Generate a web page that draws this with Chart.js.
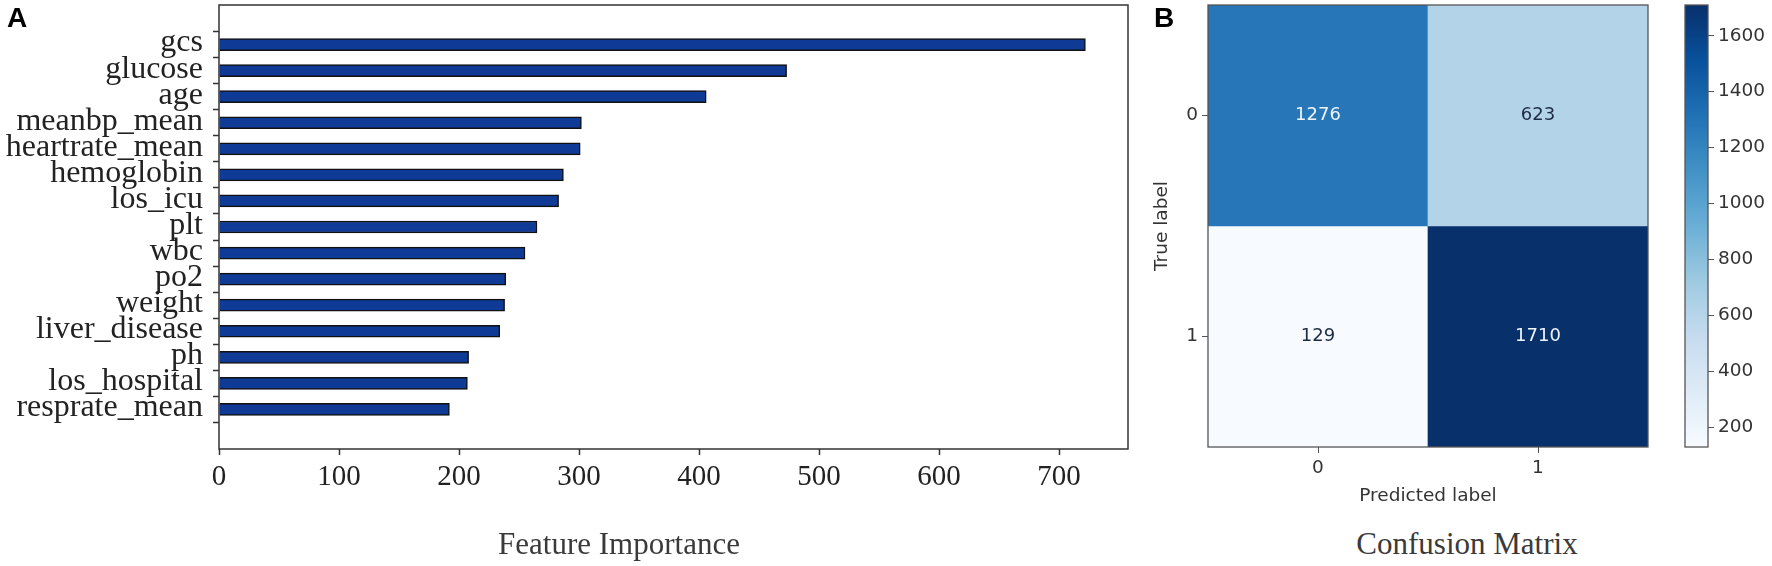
<!DOCTYPE html>
<html>
<head>
<meta charset="utf-8">
<script src="https://cdn.jsdelivr.net/npm/chart.js@4.4.0/dist/chart.umd.min.js"></script>
<style>
  html, body { margin: 0; padding: 0; background: #fff; }
  #fig { position: relative; width: 1772px; height: 566px; overflow: hidden; background: #fff; }
  .wrap { position: absolute; }
  .panel { position: absolute; font: bold 28px 'Liberation Sans', Arial, sans-serif; color: #000; line-height: 1; }
  .caption { position: absolute; font: 31px 'Liberation Serif', serif; color: #3a3a3a; transform: translate(-50%, -50%); white-space: nowrap; line-height: 1; }
</style>
</head>
<body>
<div id="fig">
  <div class="wrap" style="left:0;top:0;width:1140px;height:566px"><canvas id="impChart"></canvas></div>
  <div class="wrap" style="left:1140px;top:0;width:540px;height:520px"><canvas id="cmChart"></canvas></div>
  <div class="wrap" style="left:1680px;top:0;width:92px;height:500px"><canvas id="cbChart"></canvas></div>
  <div class="panel" style="left:7px;top:4px">A</div>
  <div class="panel" style="left:1154px;top:4px">B</div>
  <div class="caption" style="left:619px;top:543px">Feature Importance</div>
  <div class="caption" style="left:1467px;top:543px">Confusion Matrix</div>
</div>
<script>
// panel A - importancia de variables
const features = ['gcs', 'glucose', 'age', 'meanbp_mean', 'heartrate_mean', 'hemoglobin', 'los_icu',
    'plt', 'wbc', 'po2', 'weight', 'liver_disease', 'ph', 'los_hospital', 'resprate_mean'];
const importance = [722, 473, 406, 302, 301, 287, 283, 265, 255, 239, 238, 234, 208, 207, 192];
const importanceTicks = [0, 100, 200, 300, 400, 500, 600, 700];

// panel B - matriz de confusion
const predLabels = ['0', '1'];
const trueLabels = ['0', '1'];
const cmRow0 = [1276, 623];
const cmRow1 = [129, 1710];
const colorbarTicks = [200, 400, 600, 800, 1000, 1200, 1400, 1600];

const cmRows = [cmRow0, cmRow1];
const cmMin = Math.min(...cmRow0, ...cmRow1);
const cmMax = Math.max(...cmRow0, ...cmRow1);

// colormap Blues (matplotlib)
const bluesStops = ['#f7fbff', '#deebf7', '#c6dbef', '#9ecae1', '#6baed6', '#4292c6', '#2171b5', '#08519c', '#08306b'];

function hexToRgb(h) {
    return [parseInt(h.slice(1, 3), 16), parseInt(h.slice(3, 5), 16), parseInt(h.slice(5, 7), 16)];
}

function blues(v) {
    const t = Math.max(0, Math.min(1, (v - cmMin) / (cmMax - cmMin)));
    const pos = t * (bluesStops.length - 1);
    const i = Math.min(Math.floor(pos), bluesStops.length - 2);
    const f = pos - i;
    const a = hexToRgb(bluesStops[i]);
    const b = hexToRgb(bluesStops[i + 1]);
    const c = a.map((x, k) => Math.round(x + (b[k] - x) * f));
    return `rgb(${c[0]}, ${c[1]}, ${c[2]})`;
}

// ancho/alto fijo del eje, sin el relleno extra de las etiquetas
function fixSize(size) {
    return s => {
        if (s.isHorizontal()) s.height = size; else s.width = size;
        s.paddingTop = 0;
        s.paddingBottom = 0;
        s.paddingLeft = 0;
        s.paddingRight = 0;
    };
}

// marco alrededor del area del grafico
const frame = {
    id: 'frame',
    afterDraw(chart, args, opts) {
        const { ctx, chartArea: a } = chart;
        ctx.save();
        ctx.strokeStyle = opts.color || '#333';
        ctx.lineWidth = opts.width || 1;
        ctx.strokeRect(a.left, a.top, a.right - a.left, a.bottom - a.top);
        ctx.restore();
    }
};

// numeros dentro de las celdas
const cellText = {
    id: 'cellText',
    afterDatasetsDraw(chart) {
        const { ctx } = chart;
        ctx.save();
        ctx.font = '18px "DejaVu Sans"';
        ctx.textAlign = 'center';
        ctx.textBaseline = 'middle';
        chart.data.datasets.forEach((ds, d) => {
            chart.getDatasetMeta(d).data.forEach((el, i) => {
                const v = cmRows[d][i];
                ctx.fillStyle = v > (cmMin + cmMax) / 2 ? '#eef4fb' : '#1d2b44';
                ctx.fillText(String(v), el.x, (el.y + el.base) / 2);
            });
        });
        ctx.restore();
    }
};

const serif = 'Liberation Serif';
const sans = 'DejaVu Sans';

// Grafico de barras horizontales
new Chart(document.getElementById('impChart'), {
    type: 'bar',
    data: {
        datasets: [{
            data: importance.map((v, i) => ({ x: v, y: i })),
            backgroundColor: '#0f3a95',
            borderColor: '#111',
            borderWidth: 1.5,
            barThickness: 12
        }]
    },
    options: {
        indexAxis: 'y',
        responsive: true,
        maintainAspectRatio: false,
        animation: false,
        layout: { padding: { top: 5, right: 12, left: 0, bottom: 0 } },
        plugins: {
            legend: { display: false },
            tooltip: { enabled: false },
            frame: { color: '#333', width: 1.5 }
        },
        scales: {
            x: {
                type: 'linear',
                min: 0,
                max: 757.5,
                afterFit: fixSize(117),
                afterBuildTicks: s => { s.ticks = importanceTicks.map(v => ({ value: v })); },
                border: { display: false },
                grid: { drawOnChartArea: false, tickLength: 6, tickColor: '#333', tickWidth: 1.5 },
                ticks: { autoSkip: false, maxRotation: 0, font: { family: serif, size: 29 }, color: '#222', padding: 5 }
            },
            y: {
                type: 'linear',
                min: -0.95,
                max: 14.95,
                reverse: true,
                afterFit: fixSize(219),
                afterBuildTicks: s => { s.ticks = features.map((f, i) => ({ value: i })); },
                border: { display: false },
                grid: { drawOnChartArea: false, tickLength: 6, tickColor: '#333', tickWidth: 1.5 },
                ticks: {
                    autoSkip: false,
                    callback: v => features[v],
                    font: { family: serif, size: 32 },
                    color: '#222',
                    padding: 10,
                    labelOffset: -1.5
                }
            }
        }
    },
    plugins: [frame]
});

// Matriz de confusion
new Chart(document.getElementById('cmChart'), {
    type: 'bar',
    data: {
        labels: predLabels,
        datasets: cmRows.map((row, r) => ({
            data: row.map(() => [r, r + 1]),
            backgroundColor: row.map(blues),
            borderWidth: 0,
            grouped: false,
            barPercentage: 1,
            categoryPercentage: 1
        }))
    },
    options: {
        responsive: true,
        maintainAspectRatio: false,
        animation: false,
        layout: { padding: { top: 5, right: 32, left: 0, bottom: 0 } },
        plugins: {
            legend: { display: false },
            tooltip: { enabled: false },
            frame: { color: '#555', width: 1.3 }
        },
        scales: {
            x: {
                afterFit: fixSize(73),
                border: { display: false },
                grid: { offset: false, drawOnChartArea: false, tickLength: 6, tickColor: '#555' },
                ticks: { font: { family: sans, size: 18.5 }, color: '#333', padding: 4 },
                title: {
                    display: true,
                    text: 'Predicted label',
                    font: { family: sans, size: 18.5 },
                    color: '#333',
                    padding: { top: 0, bottom: 13 }
                }
            },
            y: {
                type: 'linear',
                min: 0,
                max: 2,
                reverse: true,
                afterFit: fixSize(68),
                afterBuildTicks: s => { s.ticks = trueLabels.map((l, i) => ({ value: i + 0.5 })); },
                border: { display: false },
                grid: { drawOnChartArea: false, tickLength: 6, tickColor: '#555' },
                ticks: {
                    callback: (v, i) => trueLabels[i],
                    font: { family: sans, size: 18.5 },
                    color: '#333',
                    padding: 4
                },
                title: {
                    display: true,
                    text: 'True label',
                    font: { family: sans, size: 18.5 },
                    color: '#333',
                    padding: { top: 11, bottom: 0 }
                }
            }
        }
    },
    plugins: [frame, cellText]
});

// Barra de color
new Chart(document.getElementById('cbChart'), {
    type: 'bar',
    data: {
        labels: [''],
        datasets: [{
            data: [[cmMin, cmMax]],
            backgroundColor: c => {
                const { chart } = c;
                if (!chart.chartArea) return bluesStops[4];
                const y = chart.scales.y;
                const g = chart.ctx.createLinearGradient(0, y.getPixelForValue(cmMin), 0, y.getPixelForValue(cmMax));
                bluesStops.forEach((col, i) => g.addColorStop(i / (bluesStops.length - 1), col));
                return g;
            },
            borderWidth: 0,
            barPercentage: 1,
            categoryPercentage: 1
        }]
    },
    options: {
        responsive: true,
        maintainAspectRatio: false,
        animation: false,
        layout: { padding: { top: 5, left: 5, right: 0, bottom: 53 } },
        plugins: {
            legend: { display: false },
            tooltip: { enabled: false },
            frame: { color: '#555', width: 1.3 }
        },
        scales: {
            x: { display: false },
            y: {
                position: 'right',
                min: cmMin,
                max: cmMax,
                afterFit: fixSize(64),
                afterBuildTicks: s => { s.ticks = colorbarTicks.map(v => ({ value: v })); },
                border: { display: false },
                grid: { drawOnChartArea: false, tickLength: 6, tickColor: '#555' },
                ticks: { callback: v => String(v), font: { family: sans, size: 18.5 }, color: '#333', padding: 4 }
            }
        }
    },
    plugins: [frame]
});
</script>
</body>
</html>
